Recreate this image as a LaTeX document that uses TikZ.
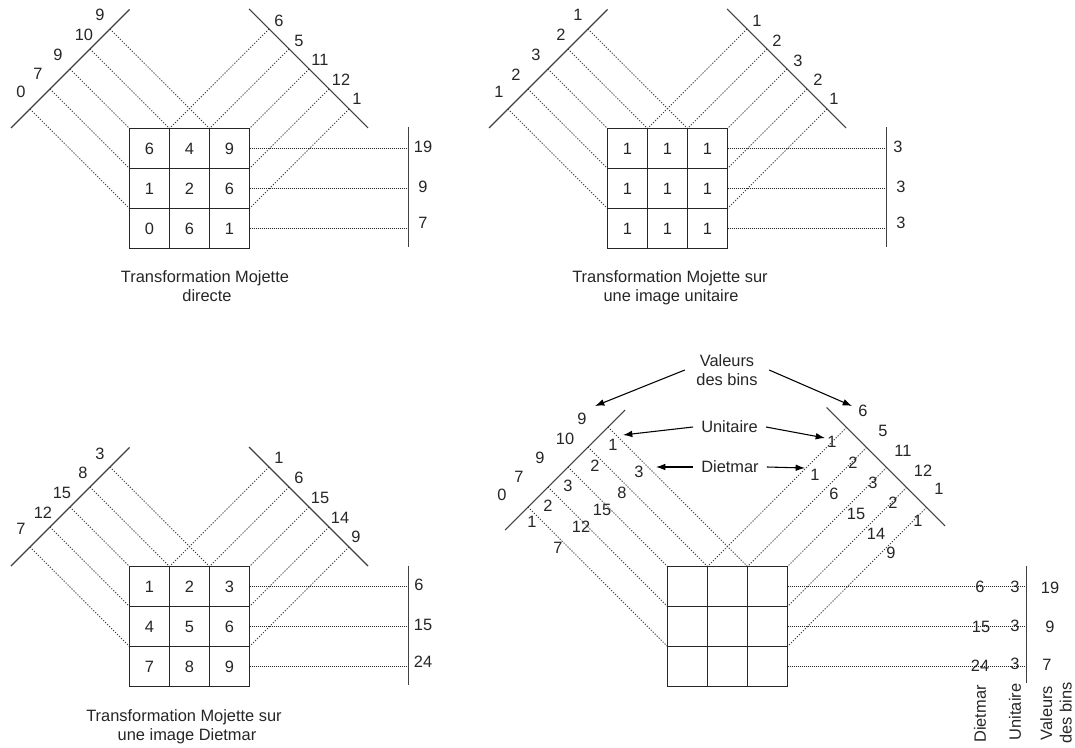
\documentclass[tikz,border=0pt]{standalone}
\usepackage{fontspec}
\setmainfont{Liberation Sans}
\usetikzlibrary{arrows.meta}
\definecolor{ink}{gray}{0.15}
\newcommand\mojgrid[4]{% #1 left distance, #2 right distance, #3 x of side bar, #4 bottom of side bar
  \foreach \k/\gx/\gy in {0/0/80,1/0/40,2/0/0,3/40/0,4/80/0}
    \draw[diagdot] ({(40*\k-80-#1)/2},{(80-40*\k-#1)/2}) -- (\gx,\gy);
  \foreach \k/\gx/\gy in {0/40/0,1/80/0,2/120/0,3/120/40,4/120/80}
    \draw[diagdot] ({120+(#2+40*\k-80)/2},{(40*\k-80-#2)/2}) -- (\gx,\gy);
  \foreach \r in {20,60,100} \draw[dotline] (120,\r) -- (#3,\r);
  \draw[solidline] (#3,-1) -- (#3,#4);
  \draw[gridline] (0,0) rectangle (120,120);
  \foreach \i in {40,80} {\draw[gridline] (\i,0) -- (\i,120); \draw[gridline] (0,\i) -- (120,\i);}
}
\newcommand\mojvals[2]{%
  \foreach \v [count=\n from 0] in {#2} {
    \pgfmathtruncatemacro\cx{mod(\n,3)}
    \pgfmathtruncatemacro\cy{div(\n,3)}
    \node (#1\n) at ({20+40*\cx},{20+40*\cy}) {\v};
  }}
\newcommand\mojlabels[2]{%
  \foreach \x/\y/\lab [count=\n] in {#2} \node (#1\n) at (\x,\y) {\lab};}
\begin{document}
\begin{tikzpicture}[x=0.75pt,y=-0.75pt,
  every node/.style={font=\fontsize{12.3}{14.5}\selectfont, text=ink, inner sep=0pt},
  solidline/.style={line width=0.8pt, draw=black!75},
  gridline/.style={line width=1.1pt, draw=black!85},
  dotline/.style={line width=0.8pt, draw=black!85, dash pattern=on 0.75pt off 0.75pt},
  diagdot/.style={line width=0.75pt, draw=black!75, dash pattern=on 0.9pt off 1.2pt},
  arr/.style={line width=0.8pt, draw=black, -{Latex[length=7pt,width=5pt]}},
  capline/.style={anchor=base},
  annot/.style={align=center, inner ysep=0pt}]
\useasboundingbox (0,0) rectangle (1075,748);
\fill[white] (0,0) rectangle (1075,748);

% ---------- panel 1 ----------
\begin{scope}[shift={(129.5,128.5)}]
  \draw[solidline] (-118.5,-0.5) -- (0,-119);
  \draw[solidline] (119.5,-119.5) -- (238.5,-0.5);
  \mojgrid{119}{119}{279}{118.5}
  \mojvals{pa}{6,4,9,1,2,6,0,6,1}
\end{scope}
\mojlabels{la}{100/15/9, 84/35/10, 58/55/9, 38/74/7, 21/92/0}
\mojlabels{ra}{279/21/6, 299/41/5, 320/60/11, 341/80/12, 357/99/1}
\mojlabels{sa}{423/147/19, 423/187/9, 423/223/7}
\node[capline] (capa1) at (205,283) {Transformation Mojette};
\node[capline] (capa2) at (207,302) {directe};

% ---------- panel 2 ----------
\begin{scope}[shift={(607.5,128.5)}]
  \draw[solidline] (-118.5,-0.5) -- (0,-119);
  \draw[solidline] (119.5,-119.5) -- (238.5,-0.5);
  \mojgrid{119}{119}{279}{118.5}
  \mojvals{pb}{1,1,1,1,1,1,1,1,1}
\end{scope}
\mojlabels{lb}{578/15/1, 561/35/2, 536/55/3, 516/75/2, 499/92/1}
\mojlabels{rb}{757/21/1, 777/41/2, 798/61/3, 818/80/2, 834/99/1}
\mojlabels{sb}{898/147/3, 901/187/3, 901/223/3}
\node[capline] (capb1) at (670,283) {Transformation Mojette sur};
\node[capline] (capb2) at (671,302) {une image unitaire};

% ---------- panel 3 ----------
\begin{scope}[shift={(129.5,566.5)}]
  \draw[solidline] (-118.5,-0.5) -- (0,-119);
  \draw[solidline] (119.5,-119.5) -- (238.5,-0.5);
  \mojgrid{119}{119}{279}{118.5}
  \mojvals{pc}{1,2,3,4,5,6,7,8,9}
\end{scope}
\mojlabels{lc}{100/454/3, 83/473/8, 62/493/15, 43/513/12, 21/529/7}
\mojlabels{rc}{279/458/1, 299/478/6, 320/498/15, 340/518/14, 356/537/9}
\mojlabels{sc}{419/585/6, 423/625/15, 423/662/24}
\node[capline] (capc1) at (184,721) {Transformation Mojette sur};
\node[capline] (capc2) at (187,740) {une image Dietmar};

% ---------- panel 4 ----------
\begin{scope}[shift={(667.5,566.5)}]
  \draw[solidline] (-162.5,-36.5) -- (-42.5,-156.5);
  \draw[solidline] (159,-159) -- (277.5,-40.5);
  \mojgrid{199}{198}{359}{116}
\end{scope}
\mojlabels{ld}{582/419/9, 565/439/10, 540/458/9, 519/477/7, 502/495/0}
\mojlabels{lu}{613/445/1, 595/466/2, 568/486/3, 548/506/2, 532/522/1}
\mojlabels{lt}{639/472/3, 622/493/8, 602/510/15, 581/527/12, 558/548/7}
\mojlabels{rd}{863/411/6, 883/431/5, 903/451/11, 923/471/12, 939/489/1}
\mojlabels{ru}{832/442/1, 853/463/2, 873/483/3, 893/503/2, 918/521/1}
\mojlabels{rt}{815/475/1, 834/494/6, 856/514/15, 876/534/14, 891/553/9}
\mojlabels{sd}{980/587/6, 1015/587/3, 981/627/15, 1015/626/3, 980/666/24, 1015/664/3, 1050/588/19, 1050/627/9, 1047/665/7}

\node[rotate=90] (vdiet) at (980,714) {Dietmar};
\node[rotate=90] (vunit) at (1015,712) {Unitaire};
\node[rotate=90, align=center] (vval) at (1056,713) {Valeurs\\des bins};

\node[annot, inner xsep=8.5pt] (vb) at (727,370) {Valeurs\\des bins};
\node[annot, inner xsep=6pt] (un) at (729.5,427) {Unitaire};
\node[annot, inner xsep=6pt] (dm) at (730,467) {Dietmar};
\coordinate (vbL) at (595,406);
\coordinate (vbR) at (852,406);
\coordinate (unL) at (623,435);
\coordinate (unR) at (825,438);
\coordinate (dmL) at (656,467);
\coordinate (dmR) at (805,468);
\draw[arr] (vb.west) -- (vbL);
\draw[arr] (vb.east) -- (vbR);
\draw[arr] (un.west) -- (unL);
\draw[arr] (un.east) -- (unR);
\draw[arr] (dm.west) -- (dmL);
\draw[arr] (dm.east) -- (dmR);
\end{tikzpicture}
\end{document}
